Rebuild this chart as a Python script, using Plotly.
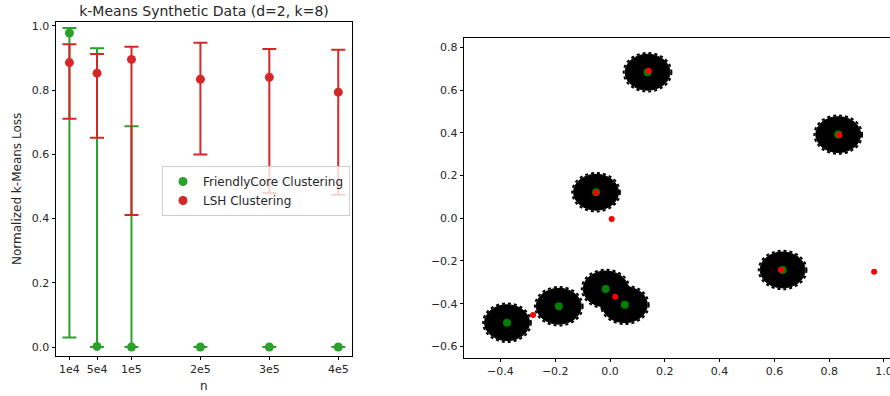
import plotly.graph_objects as go

# ---------------- Left panel data ----------------
n_values = [1e4, 5e4, 1e5, 2e5, 3e5, 4e5]
n_labels = ["1e4", "5e4", "1e5", "2e5", "3e5", "4e5"]

fc_mean = [0.978, 0.002, 0.0, 0.0, 0.0, 0.0]
fc_upper = [0.994, 0.931, 0.688, 0.0, 0.0, 0.0]
fc_lower = [0.030, 0.0, 0.0, 0.0, 0.0, 0.0]

lsh_mean = [0.886, 0.853, 0.896, 0.834, 0.840, 0.794]
lsh_upper = [0.943, 0.913, 0.935, 0.948, 0.928, 0.926]
lsh_lower = [0.711, 0.652, 0.411, 0.600, 0.480, 0.474]

# ---------------- Right panel data ----------------
true_x = [0.137, 0.833, -0.051, 0.630, -0.016, 0.054, -0.187, -0.376]
true_y = [0.684, 0.392, 0.122, -0.242, -0.331, -0.405, -0.412, -0.489]

lsh_cx = [0.141, 0.837, -0.051, 0.624, 0.006, 0.019, -0.281, 0.964]
lsh_cy = [0.691, 0.390, 0.120, -0.241, -0.003, -0.367, -0.453, -0.250]

GREEN = "#2ca02c"
RED = "#d62728"
TXT = "#262626"

fig = go.Figure()

fig.add_trace(go.Scatter(
    x=n_values, y=fc_mean, mode="markers", name="FriendlyCore Clustering",
    marker=dict(color=GREEN, size=9),
    error_y=dict(type="data", symmetric=False,
                 array=[u - m for u, m in zip(fc_upper, fc_mean)],
                 arrayminus=[m - l for m, l in zip(fc_mean, fc_lower)],
                 color=GREEN, thickness=2, width=7),
    xaxis="x", yaxis="y",
))
fig.add_trace(go.Scatter(
    x=n_values, y=lsh_mean, mode="markers", name="LSH Clustering",
    marker=dict(color=RED, size=9),
    error_y=dict(type="data", symmetric=False,
                 array=[u - m for u, m in zip(lsh_upper, lsh_mean)],
                 arrayminus=[m - l for m, l in zip(lsh_mean, lsh_lower)],
                 color=RED, thickness=2, width=7),
    xaxis="x", yaxis="y",
))

# blobs of points around each true centre (drawn as dense discs with a ragged rim)
blob_rx, blob_ry = 0.082, 0.084
rim_rx, rim_ry = 0.087, 0.090
shapes = []
for cx, cy in zip(true_x, true_y):
    shapes.append(dict(type="circle", xref="x2", yref="y2", layer="below",
                       x0=cx - rim_rx, x1=cx + rim_rx, y0=cy - rim_ry, y1=cy + rim_ry,
                       line=dict(color="black", width=2, dash="dot"),
                       fillcolor="rgba(0,0,0,0)"))
    shapes.append(dict(type="circle", xref="x2", yref="y2", layer="below",
                       x0=cx - blob_rx, x1=cx + blob_rx, y0=cy - blob_ry, y1=cy + blob_ry,
                       line=dict(color="black", width=1), fillcolor="black"))

fig.add_trace(go.Scatter(
    x=true_x, y=true_y, mode="markers", showlegend=False,
    marker=dict(color="#008000", size=8), xaxis="x2", yaxis="y2",
))
fig.add_trace(go.Scatter(
    x=lsh_cx, y=lsh_cy, mode="markers", showlegend=False,
    marker=dict(color="#ff0000", size=6), xaxis="x2", yaxis="y2",
))

axis_common = dict(showline=True, linecolor="black", linewidth=1, ticks="outside",
                   ticklen=3.5, tickwidth=1, tickcolor="black", showgrid=False,
                   zeroline=False, automargin=False, ticklabeloverflow="allow",
                   tickfont=dict(size=11, color=TXT, family="DejaVu Sans"))

fig.update_layout(
    width=890, height=396, margin=dict(l=0, r=0, t=0, b=0, pad=0),
    plot_bgcolor="white", paper_bgcolor="white",
    font=dict(family="DejaVu Sans", size=11, color=TXT),
    title=dict(text="k-Means Synthetic Data (d=2, k=8)", x=204 / 890, xanchor="center",
               y=1 - 11 / 396, yanchor="middle", automargin=False,
               font=dict(size=14, color=TXT)),
    xaxis=dict(domain=[56 / 890, 351.7 / 890], range=[-9500, 419500],
               tickvals=n_values, ticktext=n_labels, mirror=True, anchor="y", **axis_common),
    yaxis=dict(domain=[1 - 355.7 / 396, 1 - 22.3 / 396], range=[-0.027, 1.0115],
               tickvals=[0.0, 0.2, 0.4, 0.6, 0.8, 1.0], tickformat=".1f",
               mirror=True, anchor="x", **axis_common),
    xaxis2=dict(domain=[464.3 / 890, 1.0], range=[-0.532, 1.022],
                tickvals=[-0.4, -0.2, 0.0, 0.2, 0.4, 0.6, 0.8, 1.0], tickformat=".1f",
                mirror=True, anchor="y2", **axis_common),
    yaxis2=dict(domain=[1 - 357.7 / 396, 1 - 38.3 / 396], range=[-0.653, 0.843],
                tickvals=[-0.6, -0.4, -0.2, 0.0, 0.2, 0.4, 0.6, 0.8], tickformat=".1f",
                anchor="x2", **axis_common),
    legend=dict(x=162 / 890, y=1 - 166 / 396, xanchor="left", yanchor="top",
                bgcolor="rgba(255,255,255,0.8)", bordercolor="#cccccc", borderwidth=1,
                font=dict(size=12, color=TXT), tracegroupgap=0),
    shapes=shapes,
    annotations=[
        dict(text="Normalized k-Means Loss", textangle=-90, xref="paper", yref="paper",
             x=17 / 890, y=1 - 189 / 396, xanchor="center", yanchor="middle",
             showarrow=False, font=dict(size=12, color=TXT)),
        dict(text="n", xref="paper", yref="paper", x=204 / 890, y=1 - 386 / 396,
             xanchor="center", yanchor="middle",
             showarrow=False, font=dict(size=12, color=TXT)),
    ],
)

fig.write_html("out.html", config={"displayModeBar": False},
               post_script="document.body.style.margin='0';document.body.style.overflow='hidden';")
